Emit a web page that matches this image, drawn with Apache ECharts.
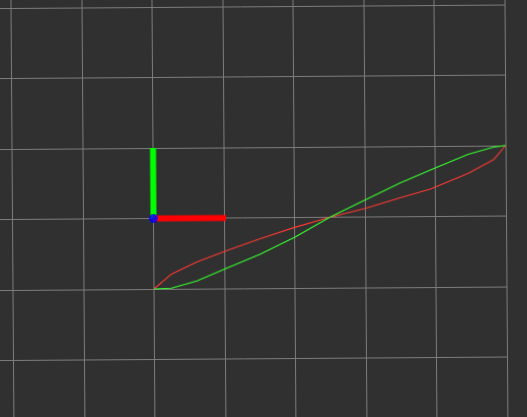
<!DOCTYPE html>
<html lang="en">
<head>
    <meta charset="UTF-8">
    <title>path</title>
    <script src="https://cdn.jsdelivr.net/npm/echarts@6/dist/echarts.min.js"></script>
<style>
    html,body{
        margin: 0;
        padding: 0;
        background-color: #303030;
        overflow: hidden;
    }
    #main{
        position: absolute;
        left: -20px;
        top: -20px;
        width: 567px;
        height: 457px;
        /* the scene is seen slightly turned */
        transform: rotate(-0.4deg);
        transform-origin: 173.5px 238.5px;
    }
</style>
</head>
<body>
    <div id="main"></div>
<script>
    // grid cells, 10 x 10 round the origin
    var gridMin = -5, gridMax = 5;
    // sample x of both paths
    var pathX = [0, 0.25, 0.61, 1.04, 1.5, 2.0, 2.5, 3.0, 3.5, 3.93, 4.47, 4.83, 5.0];
    // green path
    var greenY = [-1, -0.99, -0.89, -0.71, -0.52, -0.28, 0, 0.24, 0.48, 0.66, 0.88, 0.98, 1.0];
    // red path
    var redY = [-1, -0.79, -0.62, -0.46, -0.30, -0.14, 0, 0.12, 0.27, 0.39, 0.61, 0.80, 1.0];
    // axis marker
    var axisOrigin = [0, 0];
    var axisX = [1.03, 0];
    var axisY = [0, 1];

    function pairs(xs, ys){
        var out = [];
        for(var i = 0; i < xs.length; i++){
            out.push([xs[i], ys[i]]);
        }
        return out;
    }

    var unit = 70.5;
    var mychart = echarts.init(document.getElementById('main'));
    var hidden = {show: false};
    var split = {
        show: true,
        lineStyle: {color: '#7c7c7c', width: 1}
    };
    var option = {
        backgroundColor: '#303030',
        animation: false,
        grid: {
            left: 173.5 - 5 * unit,
            top: 238.5 - 5 * unit,
            width: 10 * unit,
            height: 10 * unit,
            outerBoundsMode: 'none',
            containLabel: false
        },
        xAxis: {
            type: 'value',
            min: gridMin,
            max: gridMax,
            interval: 1,
            axisLine: hidden,
            axisTick: hidden,
            axisLabel: hidden,
            splitLine: split
        },
        yAxis: {
            type: 'value',
            min: gridMin,
            max: gridMax,
            interval: 1,
            axisLine: hidden,
            axisTick: hidden,
            axisLabel: hidden,
            splitLine: split
        },
        series: [
            {
                name: 'red',
                type: 'line',
                data: pairs(pathX, redY),
                showSymbol: false,
                lineStyle: {color: '#ff3a32', width: 1.1}
            },
            {
                name: 'green',
                type: 'line',
                data: pairs(pathX, greenY),
                showSymbol: false,
                lineStyle: {color: '#36ff2e', width: 1.1}
            },
            {
                name: 'y axis',
                type: 'line',
                data: [axisOrigin, axisY],
                showSymbol: false,
                lineStyle: {color: '#00ff00', width: 6, cap: 'butt'}
            },
            {
                name: 'x axis',
                type: 'line',
                data: [axisOrigin, axisX],
                showSymbol: false,
                lineStyle: {color: '#ff0000', width: 6, cap: 'butt'}
            },
            {
                name: 'z axis',
                type: 'scatter',
                data: [axisOrigin],
                symbolSize: 9,
                itemStyle: {color: '#0000ff'},
                z: 5
            }
        ]
    };
    mychart.setOption(option);
</script>
</body>
</html>
